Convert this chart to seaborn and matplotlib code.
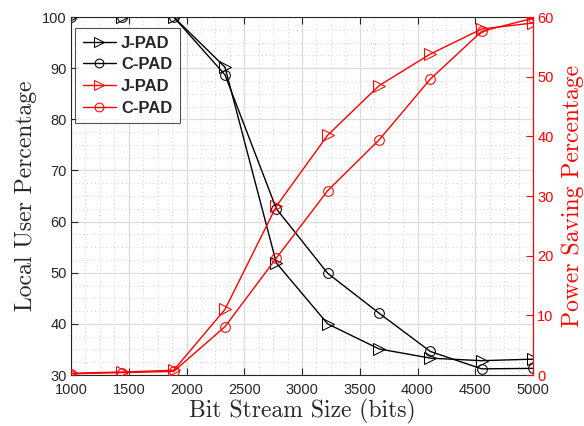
import numpy as np
import pandas as pd
import matplotlib
matplotlib.use("Agg")
import matplotlib.pyplot as plt
import seaborn as sns
from matplotlib.ticker import MultipleLocator

sns.set_style("white")
plt.rcParams['font.family'] = ['Liberation Sans', 'DejaVu Sans']

# 데이터
bits = [1000, 1444, 1889, 2333, 2778, 3222, 3667, 4111, 4556, 5000]
local_jpad = [100, 100, 100, 90.2, 51.9, 40.0, 35.1, 33.3, 32.8, 33.1]
local_cpad = [100, 100, 100, 88.7, 62.5, 49.9, 42.1, 34.6, 31.2, 31.3]
saving_jpad = [0.3, 0.5, 0.8, 11.0, 28.3, 40.2, 48.5, 53.8, 58.0, 59.0]
saving_cpad = [0.2, 0.4, 0.6, 8.1, 19.6, 30.9, 39.4, 49.6, 57.6, 59.8]

df = pd.DataFrame({'bits': bits, 'lj': local_jpad, 'lc': local_cpad,
                   'sj': saving_jpad, 'sc': saving_cpad})

fig = plt.figure(figsize=(5.84, 4.26), dpi=100)
ax = fig.add_axes([0.1216, 0.1197, 0.7911, 0.8403])
ax2 = ax.twinx()

# 왼쪽 축 (검정)
sns.lineplot(data=df, x='bits', y='lj', ax=ax, color='black', marker='>', markersize=8,
             markerfacecolor='none', markeredgecolor='black', lw=1, label='J-PAD', legend=False)
sns.lineplot(data=df, x='bits', y='lc', ax=ax, color='black', marker='o', markersize=7,
             markerfacecolor='none', markeredgecolor='black', lw=1, label='C-PAD', legend=False)
# 오른쪽 축 (빨강)
sns.lineplot(data=df, x='bits', y='sj', ax=ax2, color='red', marker='>', markersize=8,
             markerfacecolor='none', markeredgecolor='red', lw=1, label='J-PAD', legend=False)
sns.lineplot(data=df, x='bits', y='sc', ax=ax2, color='red', marker='o', markersize=7,
             markerfacecolor='none', markeredgecolor='red', lw=1, label='C-PAD', legend=False)

ax.set_xlim(1000, 5000)
ax.set_ylim(30, 100)
ax2.set_ylim(0, 60)
ax.xaxis.set_major_locator(MultipleLocator(500))
ax.xaxis.set_minor_locator(MultipleLocator(125))
ax.yaxis.set_major_locator(MultipleLocator(10))
ax.yaxis.set_minor_locator(MultipleLocator(2.5))
ax2.yaxis.set_major_locator(MultipleLocator(10))

ax.grid(True, which='major', color='#dcdcdc', lw=0.9)
ax.grid(True, which='minor', color='#cfcfcf', lw=0.7, ls=(0, (1, 3)))
ax.set_axisbelow(True)

ax.tick_params(axis='both', which='major', direction='in', length=5, labelsize=10.5,
               colors='#262626', top=True, bottom=True, left=True, right=False)
ax.tick_params(axis='x', pad=6)
ax.tick_params(axis='y', pad=3)
ax.tick_params(axis='both', which='minor', length=0)
ax2.tick_params(axis='y', direction='in', length=5, labelsize=10.5, colors='red', pad=3)

for s in ax.spines.values():
    s.set_color('#262626')
    s.set_linewidth(0.8)
ax2.spines['right'].set_color('red')
for s in ['left', 'top', 'bottom']:
    ax2.spines[s].set_visible(False)

lab = dict(fontsize=17, fontfamily='cmr10')
ax.set_xlabel('Bit Stream Size (bits)', color='#262626', labelpad=1, **lab)
ax.set_ylabel('Local User Percentage', color='#262626', labelpad=4, **lab)
ax2.set_ylabel('Power Saving Percentage', color='red', labelpad=6, **lab)

h1, l1 = ax.get_legend_handles_labels()
h2, l2 = ax2.get_legend_handles_labels()
leg = ax2.legend(h1 + h2, l1 + l2, loc='upper left', bbox_to_anchor=(0.009, 0.969),
                 borderaxespad=0, prop={'weight': 'bold', 'size': 12}, frameon=True,
                 fancybox=False, edgecolor='#262626', handlelength=2.0, borderpad=0.45,
                 labelspacing=0.4, handletextpad=0.3, markerscale=0.9)
leg.get_frame().set_linewidth(0.8)

fig.savefig('out.png', dpi=100)
